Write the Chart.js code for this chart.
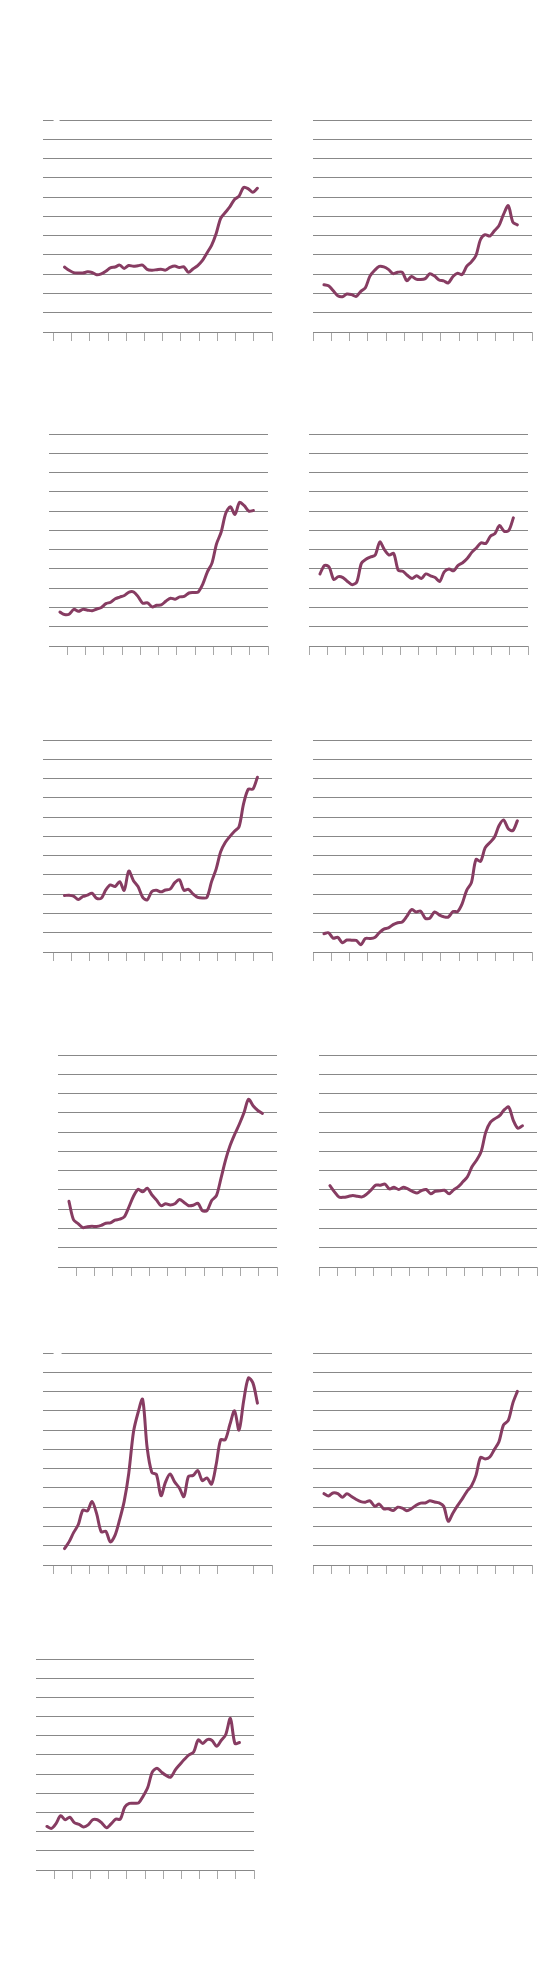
<!DOCTYPE html>
<html>
<head>
<meta charset="utf-8">
<script src="https://cdn.jsdelivr.net/npm/chart.js@4.4.1/dist/chart.umd.min.js"></script>
<style>
  html, body { margin: 0; padding: 0; background: #fff; }
  #page { position: relative; width: 560px; height: 1984px; overflow: hidden; }
  #page canvas { position: absolute; }
</style>
</head>
<body>
<div id="page"></div>
<script>
// Time positions (in axis-tick units) shared by every panel
const periods = [0.60, 0.85, 1.10, 1.36, 1.61, 1.86, 2.11, 2.37, 2.62, 2.87,
  3.12, 3.38, 3.63, 3.88, 4.13, 4.39, 4.64, 4.89, 5.14, 5.40,
  5.65, 5.90, 6.15, 6.40, 6.66, 6.91, 7.16, 7.41, 7.67, 7.92,
  8.17, 8.42, 8.68, 8.93, 9.18, 9.43, 9.69, 9.94, 10.19, 10.44,
  10.70, 10.95, 11.20];

// Series values, one array per small multiple (in gridline units)
const series1 = [3.37, 3.2, 3.08, 3.06, 3.06, 3.12, 3.09, 2.97, 3.02, 3.15, 3.33, 3.37, 3.47, 3.3, 3.45, 3.41, 3.44, 3.47, 3.25, 3.21, 3.23, 3.26, 3.21, 3.35, 3.42, 3.35, 3.38, 3.1, 3.28, 3.45, 3.7, 4.09, 4.5, 5.1, 5.9, 6.2, 6.5, 6.88, 7.05, 7.5, 7.43, 7.25, 7.46];
const series2 = [2.45, 2.4, 2.15, 1.88, 1.83, 1.97, 1.94, 1.85, 2.11, 2.3, 2.9, 3.2, 3.4, 3.38, 3.25, 3.03, 3.1, 3.1, 2.66, 2.88, 2.74, 2.72, 2.77, 3.02, 2.9, 2.7, 2.65, 2.55, 2.88, 3.05, 2.98, 3.4, 3.64, 3.97, 4.8, 5.05, 4.98, 5.25, 5.52, 6.1, 6.55, 5.7, 5.56];
const series3 = [1.76, 1.63, 1.65, 1.9, 1.8, 1.9, 1.86, 1.83, 1.92, 2.0, 2.2, 2.27, 2.45, 2.54, 2.62, 2.8, 2.8, 2.55, 2.22, 2.24, 2.03, 2.11, 2.13, 2.32, 2.48, 2.43, 2.55, 2.57, 2.75, 2.78, 2.8, 3.2, 3.85, 4.3, 5.3, 5.9, 6.9, 7.22, 6.83, 7.45, 7.28, 7.0, 7.03];
const series4 = [3.74, 4.18, 4.1, 3.45, 3.6, 3.55, 3.35, 3.18, 3.33, 4.29, 4.5, 4.62, 4.72, 5.4, 5.0, 4.72, 4.8, 3.93, 3.88, 3.66, 3.5, 3.65, 3.5, 3.74, 3.64, 3.55, 3.35, 3.85, 4.0, 3.9, 4.18, 4.32, 4.55, 4.87, 5.1, 5.35, 5.32, 5.7, 5.84, 6.25, 5.95, 6.0, 6.65];
const series5 = [2.93, 2.95, 2.9, 2.72, 2.88, 2.95, 3.05, 2.78, 2.79, 3.22, 3.48, 3.4, 3.65, 3.2, 4.2, 3.7, 3.4, 2.85, 2.7, 3.14, 3.2, 3.12, 3.22, 3.26, 3.6, 3.75, 3.2, 3.25, 3.0, 2.83, 2.8, 2.83, 3.65, 4.3, 5.2, 5.68, 6.0, 6.27, 6.5, 7.7, 8.45, 8.45, 9.07];
const series6 = [0.95, 1.0, 0.72, 0.76, 0.48, 0.62, 0.61, 0.6, 0.38, 0.7, 0.7, 0.75, 1.0, 1.19, 1.25, 1.42, 1.52, 1.56, 1.85, 2.2, 2.08, 2.12, 1.75, 1.75, 2.08, 1.93, 1.83, 1.81, 2.1, 2.1, 2.5, 3.2, 3.6, 4.8, 4.7, 5.4, 5.68, 5.95, 6.55, 6.85, 6.4, 6.3, 6.81];
const series7 = [3.41, 2.45, 2.25, 2.04, 2.09, 2.11, 2.1, 2.16, 2.27, 2.29, 2.43, 2.48, 2.6, 3.1, 3.66, 4.03, 3.9, 4.09, 3.75, 3.47, 3.18, 3.28, 3.22, 3.28, 3.5, 3.35, 3.18, 3.2, 3.3, 2.91, 2.93, 3.45, 3.7, 4.6, 5.55, 6.3, 6.9, 7.42, 8.0, 8.7, 8.35, 8.12, 7.97];
const series8 = [4.22, 3.9, 3.63, 3.62, 3.66, 3.71, 3.67, 3.64, 3.78, 4.0, 4.25, 4.24, 4.3, 4.05, 4.14, 4.02, 4.14, 4.05, 3.93, 3.84, 3.97, 4.02, 3.8, 3.93, 3.95, 3.98, 3.8, 4.0, 4.17, 4.42, 4.68, 5.2, 5.55, 6.0, 7.0, 7.5, 7.7, 7.85, 8.15, 8.3, 7.6, 7.2, 7.33];
const series9 = [0.85, 1.2, 1.68, 2.1, 2.85, 2.8, 3.3, 2.65, 1.72, 1.75, 1.2, 1.55, 2.35, 3.3, 4.75, 6.9, 7.9, 8.6, 6.1, 4.8, 4.7, 3.6, 4.3, 4.72, 4.3, 4.0, 3.55, 4.6, 4.65, 4.9, 4.38, 4.52, 4.2, 5.2, 6.5, 6.5, 7.3, 8.0, 7.0, 8.5, 9.7, 9.45, 8.4];
const series10 = [3.7, 3.58, 3.74, 3.7, 3.52, 3.7, 3.55, 3.4, 3.29, 3.26, 3.33, 3.05, 3.16, 2.91, 2.92, 2.83, 3.0, 2.95, 2.82, 2.93, 3.1, 3.21, 3.22, 3.33, 3.27, 3.22, 3.05, 2.27, 2.7, 3.08, 3.42, 3.8, 4.1, 4.65, 5.58, 5.5, 5.6, 6.0, 6.4, 7.27, 7.5, 8.4, 9.01];
const series11 = [2.27, 2.17, 2.42, 2.83, 2.62, 2.75, 2.47, 2.38, 2.24, 2.35, 2.62, 2.62, 2.45, 2.2, 2.4, 2.65, 2.65, 3.28, 3.47, 3.48, 3.5, 3.85, 4.3, 5.1, 5.3, 5.1, 4.93, 4.84, 5.22, 5.5, 5.77, 6.0, 6.15, 6.78, 6.6, 6.8, 6.75, 6.45, 6.75, 7.05, 7.9, 6.6, 6.65];

// Tick positions on the x axis (no labels are shown)
const allTicks = [0, 1, 2, 3, 4, 5, 6, 7, 8, 9, 10, 11, 12];
const ticksFromOne = [1, 2, 3, 4, 5, 6, 7, 8, 9, 10, 11, 12];
const ticksNoTen = [0, 1, 2, 3, 4, 5, 6, 7, 8, 9, 11, 12];

const PAD = 4;
const TICK_LEN = 9;
const LINE_COLOR = '#873c62';
const GRID_COLOR = '#888888';
const TICK_COLOR = '#a8a8a8';

// Layout of each panel: chart area box on the page
const panels = [
  { values: series1, left: 43, top: 120, width: 229, height: 212, xMin: -0.58, ticks: allTicks, gap: 6 },
  { values: series2, left: 313, top: 120, width: 219, height: 212, xMin: 0, ticks: allTicks, gap: 0 },
  { values: series3, left: 49, top: 434, width: 219, height: 212, xMin: 0, ticks: ticksFromOne, gap: 0 },
  { values: series4, left: 309, top: 434, width: 219, height: 212, xMin: 0, ticks: allTicks, gap: 0 },
  { values: series5, left: 43, top: 740, width: 229, height: 212, xMin: -0.58, ticks: allTicks, gap: 0 },
  { values: series6, left: 313, top: 740, width: 219, height: 212, xMin: 0, ticks: allTicks, gap: 0 },
  { values: series7, left: 58, top: 1055, width: 219, height: 212, xMin: 0, ticks: ticksFromOne, gap: 0 },
  { values: series8, left: 319, top: 1055, width: 218, height: 212, xMin: 0, ticks: allTicks, gap: 0 },
  { values: series9, left: 43, top: 1353, width: 229, height: 212, xMin: -0.58, ticks: ticksNoTen, gap: 8 },
  { values: series10, left: 313, top: 1353, width: 219, height: 212, xMin: 0, ticks: allTicks, gap: 0 },
  { values: series11, left: 36, top: 1659, width: 218, height: 211, xMin: 0, ticks: ticksFromOne, gap: 0 }
];

// Small break in the top gridline, as in the original
const topGapPlugin = {
  id: 'topGap',
  afterDraw(chart, args, opts) {
    if (!opts.width) return;
    const x = chart.scales.x.getPixelForValue(0);
    const y = chart.scales.y.getPixelForValue(11);
    const c = chart.ctx;
    c.save();
    c.fillStyle = '#fff';
    c.fillRect(x, y - 2, opts.width, 4);
    c.restore();
  }
};

const page = document.getElementById('page');

panels.forEach(p => {
  const canvas = document.createElement('canvas');
  canvas.width = p.width + PAD * 2;
  canvas.height = p.height + TICK_LEN + PAD * 2;
  canvas.style.left = (p.left - PAD) + 'px';
  canvas.style.top = (p.top - PAD) + 'px';
  page.appendChild(canvas);

  new Chart(canvas.getContext('2d'), {
    type: 'line',
    data: {
      datasets: [{
        data: periods.map((x, i) => ({ x: x, y: p.values[i] })),
        borderColor: LINE_COLOR,
        borderWidth: 3,
        borderCapStyle: 'round',
        borderJoinStyle: 'round',
        pointRadius: 0,
        tension: 0.3,
        fill: false
      }]
    },
    options: {
      responsive: false,
      animation: false,
      layout: { padding: PAD },
      plugins: {
        legend: { display: false },
        tooltip: { enabled: false },
        topGap: { width: p.gap }
      },
      scales: {
        x: {
          type: 'linear',
          min: p.xMin,
          max: 12,
          afterBuildTicks: axis => { axis.ticks = p.ticks.map(v => ({ value: v })); },
          ticks: { display: false },
          border: { display: false },
          grid: {
            drawOnChartArea: false,
            drawTicks: true,
            tickLength: TICK_LEN,
            tickColor: TICK_COLOR,
            tickWidth: 1
          }
        },
        y: {
          min: 0,
          max: 11,
          ticks: { display: false, stepSize: 1 },
          border: { display: false },
          grid: { color: GRID_COLOR, lineWidth: 1, drawTicks: false }
        }
      }
    },
    plugins: [topGapPlugin]
  });
});
</script>
</body>
</html>
